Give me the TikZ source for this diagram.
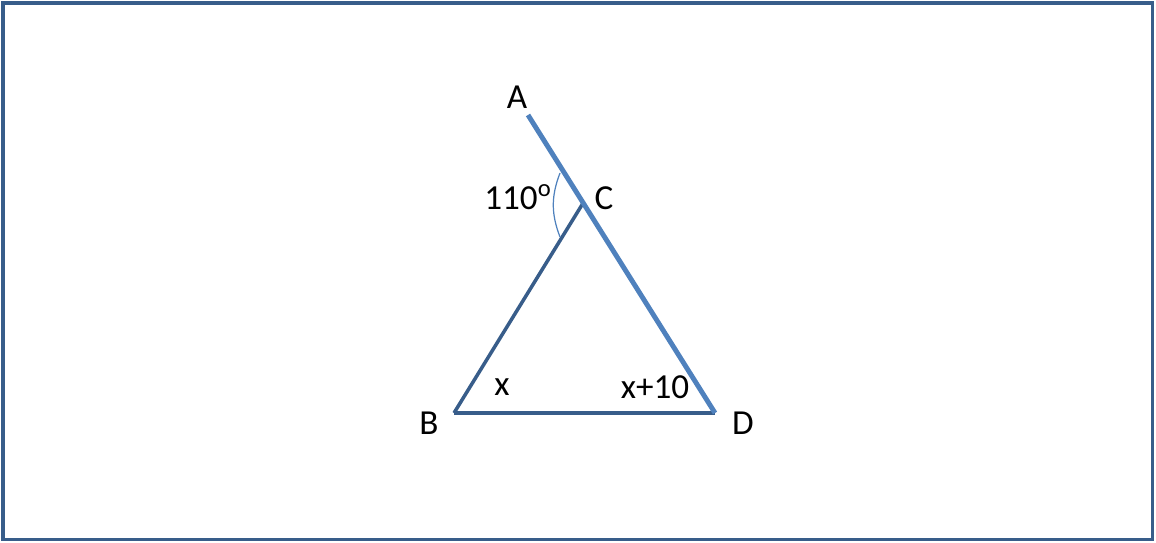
\documentclass[tikz,border=0pt]{standalone}
\usepackage{fontspec}
\setmainfont{Carlito}
\usetikzlibrary{calc}
\definecolor{darkblue}{HTML}{385D8A}
\definecolor{lightblue}{HTML}{4F81BD}
\begin{document}
\begin{tikzpicture}[x=0.02cm, y=0.02cm, lbl/.style = {font=\fontsize{20}{24}\selectfont, inner sep=0pt}, side/.style = {darkblue, line width=2pt}, ext/.style = {lightblue, line width=2.8pt}]

		\useasboundingbox (0,0) rectangle (1156,543);
		\draw[darkblue, line width=2pt] (3,3.5) rectangle (1152.5,540);

		\coordinate (A) at (528,428);
		\coordinate (B) at (454,130);
		\coordinate (D) at (715,130);
		\coordinate (C) at ($(A)!0.295!(D)$);
		\coordinate (P) at (560,370);
		\coordinate (Q) at (560,306);

		\draw[side] (B) to (C);
		\draw[side] (B) to (D);
		\draw[ext] (A) to (D);
		\draw[lightblue, line width=0.7pt] (P) to[bend right=21] (Q);

		\node[lbl] (a) at (517,446) {A};
		\node[lbl] (b) at (429,120) {B};
		\node[lbl] (c) at (604,345) {C};
		\node[lbl] (d) at (743,120) {D};
		\node[lbl] (ang) at (518,346) {110\textsuperscript{o}};
		\node[lbl] (x) at (502,156) {x};
		\node[lbl] (x10) at (655,156) {x+10};
	\end{tikzpicture}
\end{document}
